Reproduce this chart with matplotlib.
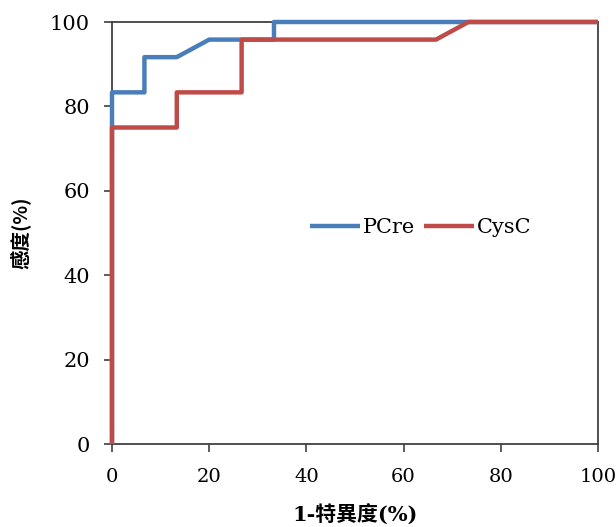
import matplotlib
matplotlib.use("Agg")
import matplotlib.pyplot as plt

pcre_x = [0, 0, 6.67, 6.67, 13.33, 20.0, 33.33, 33.33, 100]
pcre_y = [0, 83.33, 83.33, 91.67, 91.67, 95.83, 95.83, 100, 100]
cysc_x = [0, 0, 13.33, 13.33, 26.67, 26.67, 66.67, 73.33, 100]
cysc_y = [0, 75.0, 75.0, 83.33, 83.33, 95.83, 95.83, 100, 100]
xticks = [0, 20, 40, 60, 80, 100]
yticks = [0, 20, 40, 60, 80, 100]

serif = ['DejaVu Serif', 'Noto Sans CJK SC']

fig = plt.figure(figsize=(6.16, 5.27), dpi=100)
ax = fig.add_axes([112/616, 1 - 444/527, (598-112)/616, (444-22)/527])

ax.plot(pcre_x, pcre_y, color='#4A7EBB', lw=3.2, label='PCre', solid_capstyle='butt', clip_on=False, zorder=3)
ax.plot(cysc_x, cysc_y, color='#BE4B48', lw=3.2, label='CysC', solid_capstyle='butt', clip_on=False, zorder=4)

ax.set_xlim(0, 100)
ax.set_ylim(0, 100)
ax.set_xticks(xticks)
ax.set_yticks(yticks)
ax.tick_params(direction='out', length=6, width=1.2, color='#404040', labelsize=15)
ax.tick_params(axis='x', pad=11, labelsize=14)
ax.tick_params(axis='y', pad=10)
for lab in ax.get_xticklabels() + ax.get_yticklabels():
    lab.set_family(serif)
for s in ax.spines.values():
    s.set_color('#404040')
    s.set_linewidth(1.3)

ax.set_xlabel('1-特異度(%)', family=serif, fontsize=15, fontweight='bold', labelpad=14)
ax.set_ylabel('感度(%)', family=['Noto Sans CJK SC'], fontsize=14, fontweight='bold', labelpad=14)

leg = ax.legend(ncol=2, frameon=False, loc='center', bbox_to_anchor=(0.635, 0.513),
                handlelength=2.4, handletextpad=0.15, columnspacing=0.4,
                prop={'family': serif, 'size': 15})

fig.savefig('out.png', dpi=100)
